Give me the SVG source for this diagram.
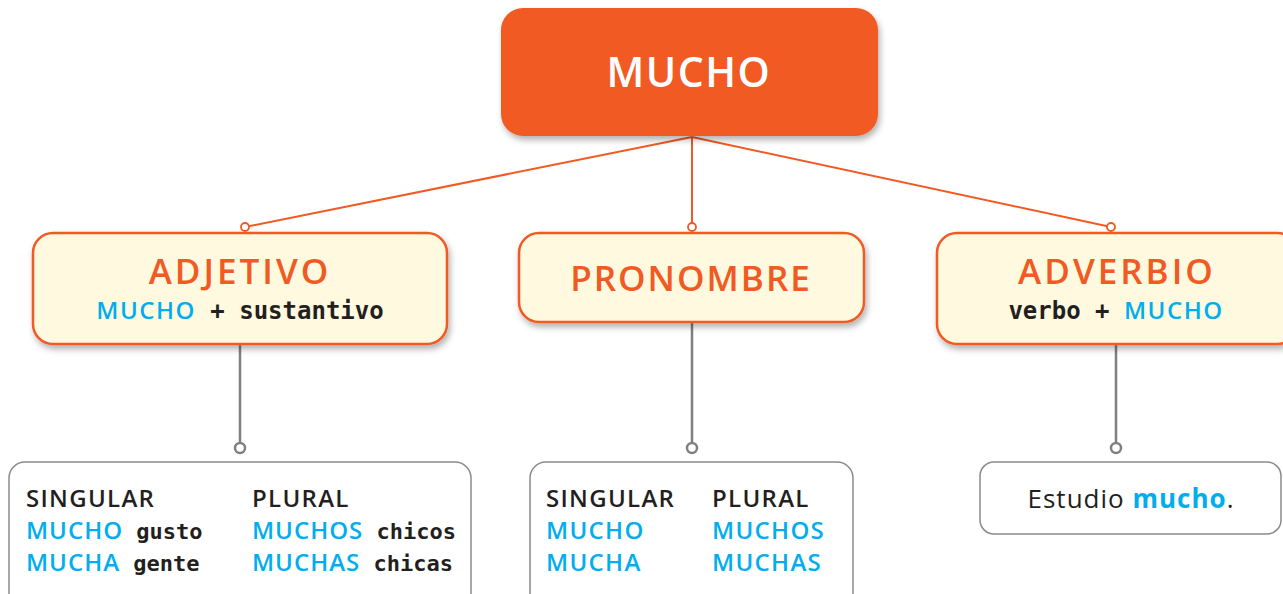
<svg xmlns="http://www.w3.org/2000/svg" width="1283" height="594" viewBox="0 0 1283 594">
<defs>
<filter id="sh" x="-10%" y="-10%" width="130%" height="140%">
<feDropShadow dx="2" dy="4" stdDeviation="3" flood-color="#000" flood-opacity="0.3"/>
</filter>
<style>
.cap{font-family:"Open Sans","DejaVu Sans",sans-serif;font-weight:600}
.mono{font-family:"DejaVu Sans Mono","Liberation Mono",monospace;font-weight:bold}
.blue{fill:#00AEEF}
.dark{fill:#231F20}
.org{fill:#F15A22}
.cat{fill:#FFF9DF;stroke:#F15A22;stroke-width:2.5}
.ex{fill:#fff;stroke:#8A8A8A;stroke-width:1.5}
.ol{stroke:#F15A22;stroke-width:2;fill:none}
.gl{stroke:#808080;stroke-width:2.5;fill:none}
.oc{fill:#fff;stroke:#F15A22;stroke-width:1.8}
.gc{fill:#fff;stroke:#808080;stroke-width:2.5}
</style>
</defs>
<rect width="1283" height="594" fill="#fff"/>
<g id="connectors">
<path class="ol" d="M692 137 L245 227 M692 137 L692 227 M692 137 L1111 227"/>
<circle class="oc" cx="245" cy="227" r="4"/>
<circle class="oc" cx="692" cy="227" r="4"/>
<circle class="oc" cx="1111" cy="227" r="4"/>
<path class="gl" d="M240 345 V443 M692 322 V443 M1116 345 V443"/>
<circle class="gc" cx="240" cy="448" r="5"/>
<circle class="gc" cx="692" cy="448" r="5"/>
<circle class="gc" cx="1116" cy="448" r="5"/>
</g>
<g id="mucho">
<rect x="501" y="8" width="377" height="128" rx="22" fill="#F15A22" filter="url(#sh)"/>
<text x="689" y="87" text-anchor="middle" class="cap" font-size="41" fill="#fff" letter-spacing="1.5">MUCHO</text>
</g>
<g id="adjetivo">
<rect class="cat" x="33" y="233" width="414" height="111" rx="20" filter="url(#sh)"/>
<text x="240" y="284" text-anchor="middle" class="cap org" font-size="35" letter-spacing="3">ADJETIVO</text>
<text x="240" y="319" text-anchor="middle" font-size="24"><tspan class="cap blue" letter-spacing="1.5">MUCHO</tspan><tspan class="mono dark"> + sustantivo</tspan></text>
</g>
<g id="pronombre">
<rect class="cat" x="519" y="233" width="345" height="89" rx="20" filter="url(#sh)"/>
<text x="691" y="291" text-anchor="middle" class="cap org" font-size="35" letter-spacing="2">PRONOMBRE</text>
</g>
<g id="adverbio">
<rect class="cat" x="937" y="233" width="360" height="111" rx="20" filter="url(#sh)"/>
<text x="1117" y="284" text-anchor="middle" class="cap org" font-size="35" letter-spacing="3">ADVERBIO</text>
<text x="1116" y="319" text-anchor="middle" font-size="24"><tspan class="mono dark">verbo + </tspan><tspan class="cap blue" letter-spacing="1.5">MUCHO</tspan></text>
</g>
<g id="ejemplos-adjetivo">
<rect class="ex" x="9" y="462" width="462" height="150" rx="16"/>
<g font-size="24">
<text x="26" y="507" class="cap dark" letter-spacing="1.3">SINGULAR</text>
<text x="252" y="507" class="cap dark" letter-spacing="1.3">PLURAL</text>
<text x="26" y="539"><tspan class="cap blue" letter-spacing="1">MUCHO</tspan><tspan class="mono dark" font-size="22"> gusto</tspan></text>
<text x="26" y="571"><tspan class="cap blue" letter-spacing="1">MUCHA</tspan><tspan class="mono dark" font-size="22"> gente</tspan></text>
<text x="252" y="539"><tspan class="cap blue" letter-spacing="1">MUCHOS</tspan><tspan class="mono dark" font-size="22"> chicos</tspan></text>
<text x="252" y="571"><tspan class="cap blue" letter-spacing="1">MUCHAS</tspan><tspan class="mono dark" font-size="22"> chicas</tspan></text>
</g>
</g>
<g id="ejemplos-pronombre">
<rect class="ex" x="530" y="462" width="323" height="150" rx="16"/>
<g font-size="24" letter-spacing="1.3">
<text x="546" y="507" class="cap dark">SINGULAR</text>
<text x="712" y="507" class="cap dark">PLURAL</text>
<text x="546" y="539" class="cap blue">MUCHO</text>
<text x="546" y="571" class="cap blue">MUCHA</text>
<text x="712" y="539" class="cap blue">MUCHOS</text>
<text x="712" y="571" class="cap blue">MUCHAS</text>
</g>
</g>
<g id="ejemplo-adverbio">
<rect class="ex" x="980" y="462" width="301" height="72" rx="14"/>
<text x="1131" y="508" text-anchor="middle" font-family="'Open Sans','DejaVu Sans',sans-serif" font-size="26" letter-spacing="1" class="dark">Estudio <tspan class="blue" font-weight="bold">mucho</tspan>.</text>
</g>
</svg>
